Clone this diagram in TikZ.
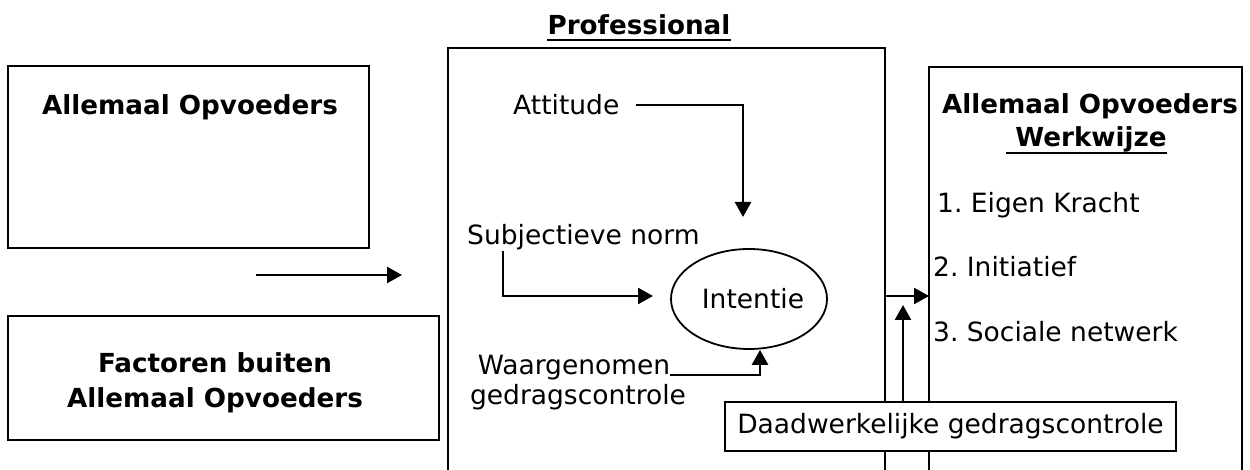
\documentclass[tikz,border=0pt]{standalone}
\usepackage{fontspec}
\setmainfont{DejaVu Sans}
\usetikzlibrary{positioning, arrows.meta, calc, shapes.geometric}
\tikzset{
    panel/.style={
        draw=black, fill=white,
        line width=1.8pt, inner sep=0pt,
    },
    frame/.style={
        draw=black, line width=1.8pt,
    },
    heading/.style={
        font=\fontsize{26.2}{31}\selectfont\bfseries,
        align=center, inner sep=0pt,
    },
    plain/.style={
        font=\fontsize{26.5}{31}\selectfont,
        align=center, inner sep=0pt,
    },
    flow/.style={
        -{Triangle[length=15pt, width=16pt]},
        line width=2.5pt,
    },
    underbar/.style={
        line width=2.4pt,
    },
}

\begin{document}
\frenchspacing
\begin{tikzpicture}[x=1pt, y=1pt]
\useasboundingbox (0,0) rectangle (1250,470);

% =============================================
% Left column: the two outside boxes
% =============================================
\node[panel, minimum width=361pt, minimum height=182pt] (aobox) at (188.5,313) {};
\node[heading, anchor=base] (aotitle) at (190,355) {Allemaal Opvoeders};

\node[panel, minimum width=431pt, minimum height=124pt] (fbbox) at (223.5,92) {};
\node[heading] (fbtitle) at (215,87) {Factoren buiten\\[4pt]Allemaal Opvoeders};

\coordinate (feedstart) at (256,195);
\coordinate (feedend) at (402,195);
\draw[flow] (feedstart) -- (feedend);

% =============================================
% Middle: Professional (open at the bottom)
% =============================================
\coordinate (proSW) at (448,-5);
\coordinate (proNW) at (448,422);
\coordinate (proNE) at (885,422);
\coordinate (proSE) at (885,-5);
\draw[frame] (proSW) -- (proNW) -- (proNE) -- (proSE);

\node[heading, anchor=base, text depth=0pt] (protitle) at (639,435) {Professional};
\draw[underbar] ([yshift=-5pt]protitle.south west) -- ([yshift=-5pt]protitle.south east);

\node[plain, anchor=base west] (attitude) at (513,355) {Attitude};
\node[plain, anchor=base west] (subjnorm) at (467,225) {Subjectieve norm};
\node[ellipse, draw, line width=1.8pt, plain, minimum width=156pt, minimum height=100pt] (intentie) at (749,171) {\hspace*{8pt}Intentie};
\node[plain, anchor=base] (waarg) at (574,95) {Waargenomen};
\node[plain, anchor=base] (gedrag) at (578,65) {gedragscontrole};

\coordinate (atttip) at (743,253);
\coordinate (sntip) at (653,174);

\draw[flow] ([xshift=16pt]attitude.east) -| (atttip);
\draw[flow] ([xshift=36pt]subjnorm.south west) |- (sntip);
\draw[flow] (waarg.base east) -| ([xshift=11pt]intentie.south);

% =============================================
% Right: Allemaal Opvoeders Werkwijze
% =============================================
\coordinate (wwSW) at (929,-5);
\coordinate (wwNW) at (929,403);
\coordinate (wwNE) at (1242,403);
\coordinate (wwSE) at (1242,-5);
\draw[frame] (wwSW) -- (wwNW) -- (wwNE) -- (wwSE);

\node[heading, anchor=base] (wwtitle) at (1090,356) {Allemaal Opvoeders};
\node[heading, anchor=base, text depth=0pt] (wwsub) at (1091,323) {Werkwijze};
\draw[underbar] ([xshift=-9pt, yshift=-6pt]wwsub.south west) -- ([yshift=-6pt]wwsub.south east);

\node[plain, anchor=base west] (item1) at (937,257) {1. Eigen Kracht};
\node[plain, anchor=base west] (item2) at (933,193) {2. Initiatief};
\node[plain, anchor=base west] (item3) at (933,128) {3. Sociale netwerk};

% =============================================
% Links between Professional and Werkwijze
% =============================================
\coordinate (proout) at (885,174);
\draw[flow] (proout) -- (proout -| wwNW);

\node[panel, plain, minimum width=451pt, minimum height=49pt] (daad) at (950.5,43.5) {Daadwerkelijke gedragscontrole};

\coordinate (daadtip) at (903,165);
\draw[flow] (daad.north -| daadtip) -- (daadtip);

\end{tikzpicture}
\end{document}
